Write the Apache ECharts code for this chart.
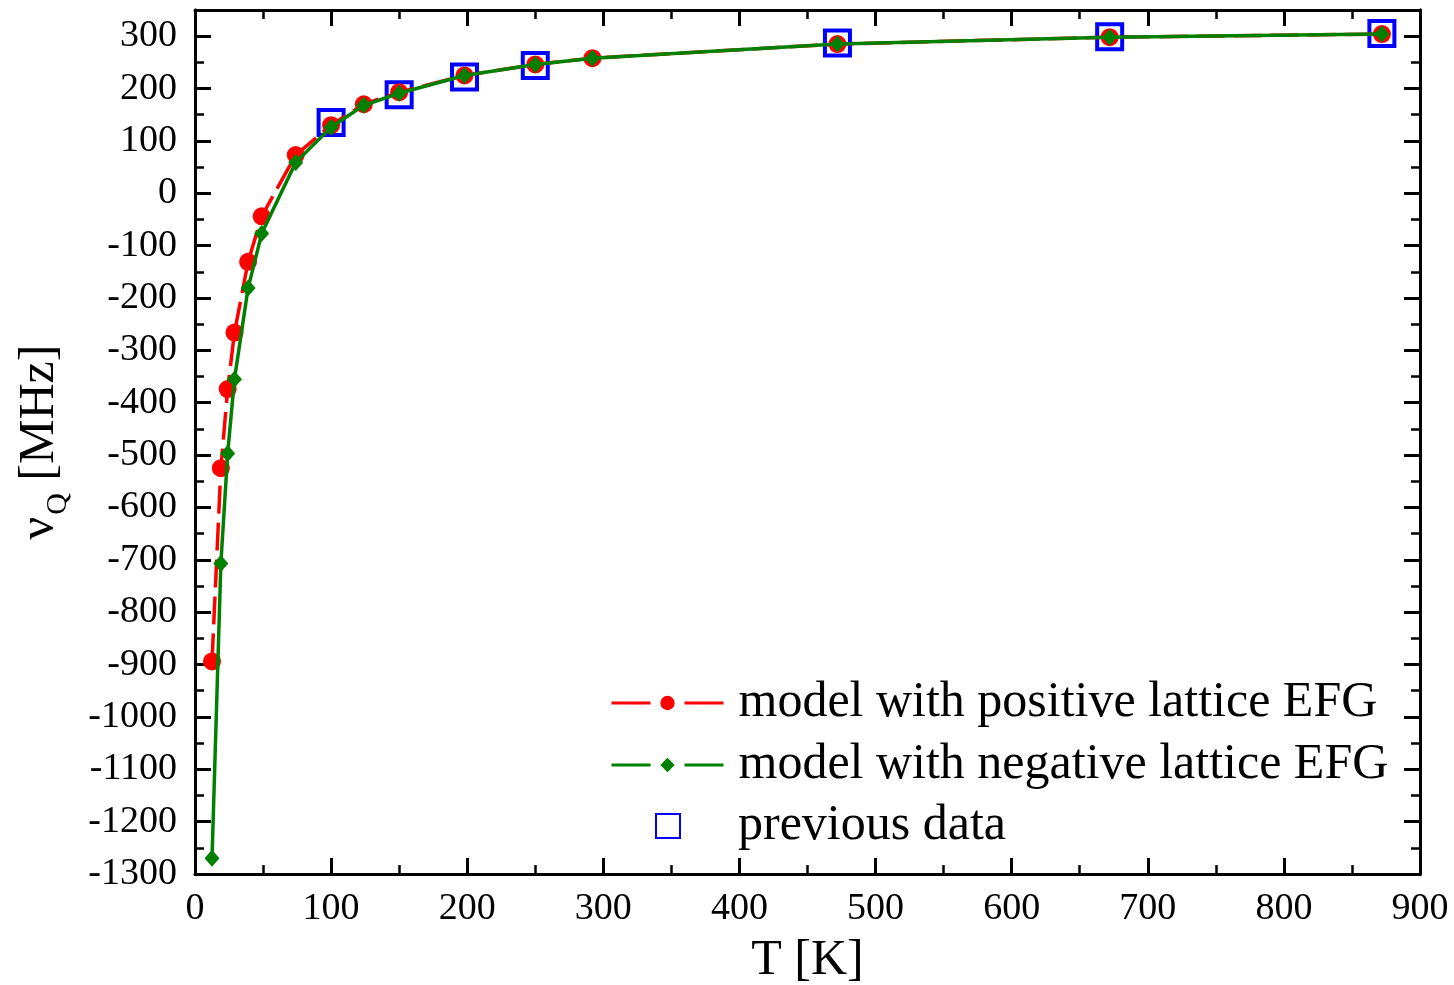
<!DOCTYPE html>
<html>
<head>
<meta charset="utf-8">
<script src="https://cdn.jsdelivr.net/npm/echarts@6/dist/echarts.min.js"></script>
<style>
  html, body { margin: 0; padding: 0; background: #fff; }
  #chart { width: 1454px; height: 985px; }
</style>
</head>
<body>
<div id="chart"></div>
<script>
// temperatures of the model points [K]
const modelT = [12.5, 19, 24, 29, 39, 49, 74, 100, 124, 150, 198, 250, 292, 472, 672, 872];
// nu_Q [MHz], model with positive lattice EFG
const posEFG = [-894, -525, -374, -266, -131, -44, 73, 130, 170, 193, 225, 246, 258, 285, 298, 304];
// nu_Q [MHz], model with negative lattice EFG
const negEFG = [-1270, -707, -497, -355, -181, -77, 59, 126, 168, 191, 225, 246, 258, 285, 298, 304];
// previous data
const prevT = [100, 150, 198, 250, 472, 672, 872];
const prevV = [135, 188, 222, 244, 287, 299, 305];

const seriesNames = [
  "model with positive lattice EFG",
  "model with negative lattice EFG",
  "previous data",
];

const FONT = "Liberation Serif";
const zip = (xs, ys) => xs.map((x, i) => [x, ys[i]]);

const chart = echarts.init(document.getElementById("chart"));

const lineCol = "#000";
const axisLine = { show: true, onZero: false, lineStyle: { color: lineCol, width: 3 } };
const majorTick = { inside: true, length: 16, lineStyle: { width: 3, color: lineCol } };
const minorTickY = { inside: true, length: 9, lineStyle: { width: 2.5, color: lineCol } };
const yBase = {
  type: "value",
  min: -1300,
  max: 350,
  axisLine: axisLine,
  splitLine: { show: false },
};

chart.setOption({
  backgroundColor: "#fff",
  animation: false,
  grid: { left: 195, right: 34, top: 10, bottom: 111, containLabel: false, outerBoundsMode: "none" },
  xAxis: [
    {
      type: "value",
      min: 0,
      max: 900,
      interval: 100,
      name: "T [K]",
      nameLocation: "middle",
      nameGap: 62,
      nameTextStyle: { fontFamily: FONT, fontSize: 50, color: "#000" },
      axisLine: axisLine,
      axisTick: majorTick,
      minorTick: { show: true, splitNumber: 2, length: 9, lineStyle: { width: 2.5, color: lineCol } },
      axisLabel: { fontFamily: FONT, fontSize: 38, color: "#000", margin: 16 },
      splitLine: { show: false },
    },
    {
      type: "value",
      position: "top",
      min: 0,
      max: 900,
      interval: 100,
      axisLine: axisLine,
      axisTick: majorTick,
      minorTick: { show: true, splitNumber: 2, length: 9, lineStyle: { width: 2.5, color: lineCol } },
      axisLabel: { show: false },
      splitLine: { show: false },
    },
  ],
  yAxis: [
    {
      ...yBase,
      position: "left",
      interval: 50,
      name: "{a|ν}{s|Q}{a| [MHz]}",
      nameLocation: "middle",
      nameGap: 122,
      nameTextStyle: {
        rich: {
          a: { fontFamily: FONT, fontSize: 50, color: "#000", lineHeight: 66, verticalAlign: "middle" },
          s: { fontFamily: FONT, fontSize: 30, color: "#000", lineHeight: 24, verticalAlign: "bottom", padding: [0, 0, 0, 2] },
        },
      },
      axisTick: minorTickY,
      axisLabel: {
        fontFamily: FONT,
        fontSize: 38,
        color: "#000",
        margin: 18,
        formatter: (v) => (v % 100 === 0 && v <= 300 ? String(v) : ""),
      },
    },
    {
      ...yBase,
      position: "left",
      interval: 100,
      axisTick: majorTick,
      axisLabel: { show: false },
    },
    {
      ...yBase,
      position: "right",
      interval: 50,
      axisTick: minorTickY,
      axisLabel: { show: false },
    },
    {
      ...yBase,
      position: "right",
      interval: 100,
      axisTick: majorTick,
      axisLabel: { show: false },
    },
  ],
  legend: [
    {
      orient: "vertical",
      left: 610,
      top: 678,
      padding: 0,
      itemWidth: 112,
      itemHeight: 18,
      itemGap: 12,
      data: [seriesNames[0], seriesNames[1]],
      lineStyle: { width: 3, type: [39, 34] },
      textStyle: { fontFamily: FONT, fontSize: 50, lineHeight: 50, color: "#000", padding: [0, 0, 0, 10] },
    },
    {
      orient: "vertical",
      left: 655,
      top: 801,
      padding: 0,
      itemWidth: 24,
      itemHeight: 24,
      data: [{ name: seriesNames[2], icon: "rect" }],
      textStyle: { fontFamily: FONT, fontSize: 50, lineHeight: 50, color: "#000", padding: [0, 0, 0, 53] },
    },
  ],
  series: [
    {
      name: seriesNames[2],
      type: "scatter",
      data: zip(prevT, prevV),
      symbol: "rect",
      symbolSize: 25,
      itemStyle: { color: "rgba(0,0,0,0)", borderColor: "#0000ff", borderWidth: 4, opacity: 1 },
      z: 2,
    },
    {
      name: seriesNames[0],
      type: "line",
      data: zip(modelT, posEFG),
      symbol: "circle",
      symbolSize: 18,
      lineStyle: { color: "#ff0000", width: 3.5, type: [28, 9] },
      itemStyle: { color: "#ff0000" },
      z: 3,
    },
    {
      name: seriesNames[1],
      type: "line",
      data: zip(modelT, negEFG),
      symbol: "diamond",
      symbolSize: [15, 17],
      lineStyle: { color: "#008000", width: 3.5 },
      itemStyle: { color: "#008000" },
      z: 4,
    },
  ],
});
</script>
</body>
</html>
